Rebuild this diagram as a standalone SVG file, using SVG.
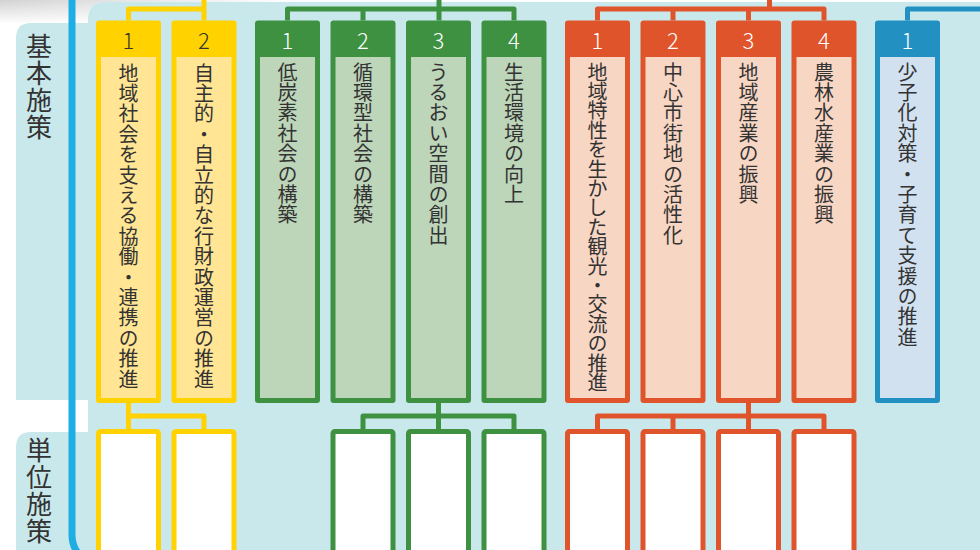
<svg xmlns="http://www.w3.org/2000/svg" width="980" height="550" viewBox="0 0 980 550">
<defs>
<linearGradient id="shadow" x1="0" y1="0" x2="0" y2="1">
<stop offset="0" stop-color="#d2d2d2"/>
<stop offset="1" stop-color="#ffffff"/>
</linearGradient>
<linearGradient id="shadowH" x1="0" y1="0" x2="1" y2="0">
<stop offset="0" stop-color="#ffffff" stop-opacity="0"/>
<stop offset="1" stop-color="#ffffff" stop-opacity="1"/>
</linearGradient>
</defs>
<style>
text{font-family:"Noto Sans CJK JP","Noto Sans CJK SC",sans-serif;fill:#333333}
.v{writing-mode:vertical-rl;font-size:20px;letter-spacing:0.4px;font-weight:400}
.side{writing-mode:vertical-rl;font-size:26px;letter-spacing:1px}
.num{font-size:22px;text-anchor:middle;font-weight:300}
.w{fill:#ffffff}
.cy{stroke:#FFD200}
.cg{stroke:#3F9142}
.co{stroke:#E0542B}
.cb{stroke:#2290C1}
.conn path{fill:none;stroke-width:5;stroke-linejoin:round;stroke-linecap:butt}
.child{fill:#ffffff;stroke-width:5}
</style>
<rect x="0" y="0" width="980" height="550" fill="#ffffff"/>
<rect x="0" y="0" width="300" height="24" fill="url(#shadow)"/>
<rect x="0" y="0" width="300" height="24" fill="url(#shadowH)"/>
<g id="panels">
<path d="M16,38 Q16,23 31,23 H100 V400 H16 Z" fill="#C9E8EC"/>
<path d="M16,447 Q16,432 31,432 H100 V550 H16 Z" fill="#C9E8EC"/>
<path d="M88,20 Q88,2 106,2 H980 V550 H88 Z" fill="#C9E8EC"/>
</g>
<g id="label-kihon"><text class="side" x="39" y="33">基本施策</text></g>
<g id="label-tani"><text class="side" x="39" y="437">単位施策</text></g>
<path id="bar" d="M72,0 V535 A30,30 0 0 0 102,565" fill="none" stroke="#1FAEE3" stroke-width="7"/>
<g id="connectors" class="conn">
<path class="cy" d="M204,0 V20.5 M128.5,20.5 V9 H206.5"/>
<path class="cg" d="M439,0 V20.5 M287.5,20.5 V9 H514 V20.5 M363,9 V20.5"/>
<path class="co" d="M769.5,0 V9 M597.5,20.5 V9 H824 V20.5 M673,9 V20.5 M748.5,9 V20.5"/>
<path class="cb" d="M907.5,20.5 V9 H980"/>
<path class="cy" d="M128.5,403 V429 M128.5,416 H204 V429"/>
<path class="cg" d="M438.5,403 V429 M363,429 V416 H514 V429"/>
<path class="co" d="M748.5,403 V429 M597.5,429 V416 H824 V429 M673,416 V429"/>
</g>
<g id="y1"><rect x="96" y="20.5" width="65" height="382.5" rx="3" fill="#FFD200"/><rect x="101" y="57" width="55" height="341" fill="#FFE594"/><text class="num" x="128.5" y="49">1</text><text class="v" x="128.5" y="63">地域社会を支える協働・連携の推進</text></g>
<g id="y2"><rect x="171.5" y="20.5" width="65" height="382.5" rx="3" fill="#FFD200"/><rect x="176.5" y="57" width="55" height="341" fill="#FFE594"/><text class="num" x="204" y="49">2</text><text class="v" x="204" y="63">自主的・自立的な行財政運営の推進</text></g>
<g id="g1"><rect x="255" y="20.5" width="65" height="382.5" rx="3" fill="#3F9142"/><rect x="260" y="57" width="55" height="341" fill="#BDD5B9"/><text class="num w" x="287.5" y="49">1</text><text class="v" x="287.5" y="62">低炭素社会の構築</text></g>
<g id="g2"><rect x="330.5" y="20.5" width="65" height="382.5" rx="3" fill="#3F9142"/><rect x="335.5" y="57" width="55" height="341" fill="#BDD5B9"/><text class="num w" x="363" y="49">2</text><text class="v" x="363" y="62">循環型社会の構築</text></g>
<g id="g3"><rect x="406" y="20.5" width="65" height="382.5" rx="3" fill="#3F9142"/><rect x="411" y="57" width="55" height="341" fill="#BDD5B9"/><text class="num w" x="438.5" y="49">3</text><text class="v" x="438.5" y="62">うるおい空間の創出</text></g>
<g id="g4"><rect x="481.5" y="20.5" width="65" height="382.5" rx="3" fill="#3F9142"/><rect x="486.5" y="57" width="55" height="341" fill="#BDD5B9"/><text class="num w" x="514" y="49">4</text><text class="v" x="514" y="62">生活環境の向上</text></g>
<g id="o1"><rect x="565" y="20.5" width="65" height="382.5" rx="3" fill="#E0542B"/><rect x="570" y="57" width="55" height="341" fill="#F8D6C4"/><text class="num w" x="597.5" y="49">1</text><text class="v" x="597.5" y="62" style="letter-spacing:-0.6px">地域特性を生かした観光・交流の推進</text></g>
<g id="o2"><rect x="640.5" y="20.5" width="65" height="382.5" rx="3" fill="#E0542B"/><rect x="645.5" y="57" width="55" height="341" fill="#F8D6C4"/><text class="num w" x="673" y="49">2</text><text class="v" x="673" y="62">中心市街地の活性化</text></g>
<g id="o3"><rect x="716" y="20.5" width="65" height="382.5" rx="3" fill="#E0542B"/><rect x="721" y="57" width="55" height="341" fill="#F8D6C4"/><text class="num w" x="748.5" y="49">3</text><text class="v" x="748.5" y="62">地域産業の振興</text></g>
<g id="o4"><rect x="791.5" y="20.5" width="65" height="382.5" rx="3" fill="#E0542B"/><rect x="796.5" y="57" width="55" height="341" fill="#F8D6C4"/><text class="num w" x="824" y="49">4</text><text class="v" x="824" y="62">農林水産業の振興</text></g>
<g id="b1"><rect x="875" y="20.5" width="65" height="382.5" rx="3" fill="#2290C1"/><rect x="880" y="57" width="55" height="341" fill="#D2E1EF"/><text class="num w" x="907.5" y="49">1</text><text class="v" x="907.5" y="62">少子化対策・子育て支援の推進</text></g>
<g id="y1c"><rect class="child cy" x="98.5" y="431.5" width="60" height="130" rx="2"/></g>
<g id="y2c"><rect class="child cy" x="174" y="431.5" width="60" height="130" rx="2"/></g>
<g id="g3c1"><rect class="child cg" x="333" y="431.5" width="60" height="130" rx="2"/></g>
<g id="g3c2"><rect class="child cg" x="408.5" y="431.5" width="60" height="130" rx="2"/></g>
<g id="g3c3"><rect class="child cg" x="484" y="431.5" width="60" height="130" rx="2"/></g>
<g id="o3c1"><rect class="child co" x="567.5" y="431.5" width="60" height="130" rx="2"/></g>
<g id="o3c2"><rect class="child co" x="643" y="431.5" width="60" height="130" rx="2"/></g>
<g id="o3c3"><rect class="child co" x="718.5" y="431.5" width="60" height="130" rx="2"/></g>
<g id="o3c4"><rect class="child co" x="794" y="431.5" width="60" height="130" rx="2"/></g>
</svg>
